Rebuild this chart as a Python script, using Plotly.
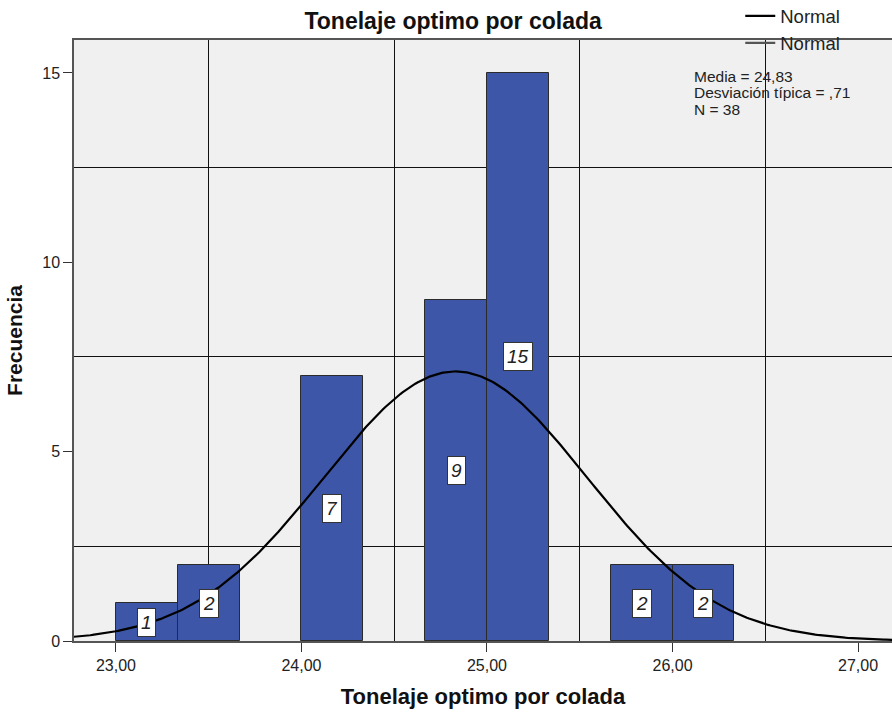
import numpy as np
import plotly.graph_objects as go

# Histogram bins (left edges, width 1/3) and frequencies
bin_left = [23.0, 23.3333, 24.0, 24.6667, 25.0, 25.6667, 26.0]
freq = [1, 2, 7, 9, 15, 2, 2]
bin_width = 1 / 3

# Summary statistics
media = 24.83
desv = 0.71
n = 38

x_ticks = [23, 24, 25, 26, 27]
y_ticks = [0, 5, 10, 15]
x_grid = [23.5, 24.5, 25.5, 26.5]
y_grid = [2.5, 7.5, 12.5]

centers = [b + bin_width / 2 for b in bin_left]

# Fitted normal curve scaled to counts
xc = np.linspace(22.7, 27.3, 400)
yc = n * bin_width / (desv * np.sqrt(2 * np.pi)) * np.exp(-0.5 * ((xc - media) / desv) ** 2)

fig = go.Figure()
fig.add_trace(go.Bar(
    x=centers, y=freq, width=bin_width,
    marker=dict(color="#3D56A8", line=dict(color="#2b2b2b", width=1)),
    showlegend=False, hoverinfo="skip",
))
fig.add_trace(go.Scatter(
    x=xc, y=yc, mode="lines", name="Normal",
    line=dict(color="black", width=2.2), showlegend=True,
))
fig.add_trace(go.Scatter(
    x=[None], y=[None], mode="lines", name="Normal",
    line=dict(color="#555555", width=2.2), showlegend=True,
))

# Count labels in the middle of each bar
for c, f in zip(centers, freq):
    fig.add_annotation(
        x=c, y=f / 2, text=f"<i>{f}</i>", showarrow=False,
        font=dict(family="Liberation Sans, Arial", size=19, color="#222222"),
        bgcolor="white", bordercolor="#333333", borderwidth=1, borderpad=3,
    )

# Summary statistics box, one line per statistic
stats_lines = [
    f"Media = {str(media).replace('.', ',')}",
    f"Desviación típica = ,{int(round(desv * 100))}",
    f"N = {n}",
]
for i, line in enumerate(stats_lines):
    fig.add_annotation(
        xref="paper", yref="paper", x=0.756, y=0.957, xanchor="left", yanchor="top",
        yshift=-16.5 * i, align="left", showarrow=False, text=line,
        font=dict(family="Liberation Sans, Arial", size=15.5, color="#222222"),
    )

fig.update_layout(
    width=892, height=712,
    margin=dict(l=74, r=0, t=40, b=71, autoexpand=False),
    paper_bgcolor="white", plot_bgcolor="#F0F0F0",
    separators=",.",
    font=dict(family="Liberation Sans, Arial", size=16, color="#222222"),
    title=dict(text="<b>Tonelaje optimo por colada</b>", x=0.508, xanchor="center",
               y=0.971, yanchor="middle", font=dict(size=23, color="#111111")),
    legend=dict(x=0.8145, y=1.071, xanchor="left", yanchor="top", yref="paper",
                bgcolor="rgba(0,0,0,0)", font=dict(size=18.5), tracegroupgap=0,
                itemwidth=30),
    bargap=0,
)
fig.update_xaxes(
    range=[22.774, 27.183], tickmode="array", tickvals=x_ticks, tickformat=".2f",
    ticks="outside", ticklen=9, tickcolor="#333333", showgrid=False, zeroline=False,
    showline=True, linecolor="#555555", linewidth=1.5, mirror=True,
    minor=dict(tickmode="array", tickvals=x_grid, showgrid=True, gridcolor="#111111",
               gridwidth=1, ticks=""),
    title=dict(text="<b>Tonelaje optimo por colada</b>", font=dict(size=22, color="#111111"),
               standoff=16),
)
fig.update_yaxes(
    range=[0, 15.87], tickmode="array", tickvals=y_ticks,
    ticks="outside", ticklen=9, tickcolor="#333333", showgrid=False, zeroline=False,
    showline=True, linecolor="#555555", linewidth=1.5,
    minor=dict(tickmode="array", tickvals=y_grid, showgrid=True, gridcolor="#111111",
               gridwidth=1, ticks=""),
    title=dict(text="<b>Frecuencia</b>", font=dict(size=21, color="#111111"), standoff=14),
)

fig.write_html("out.html")
